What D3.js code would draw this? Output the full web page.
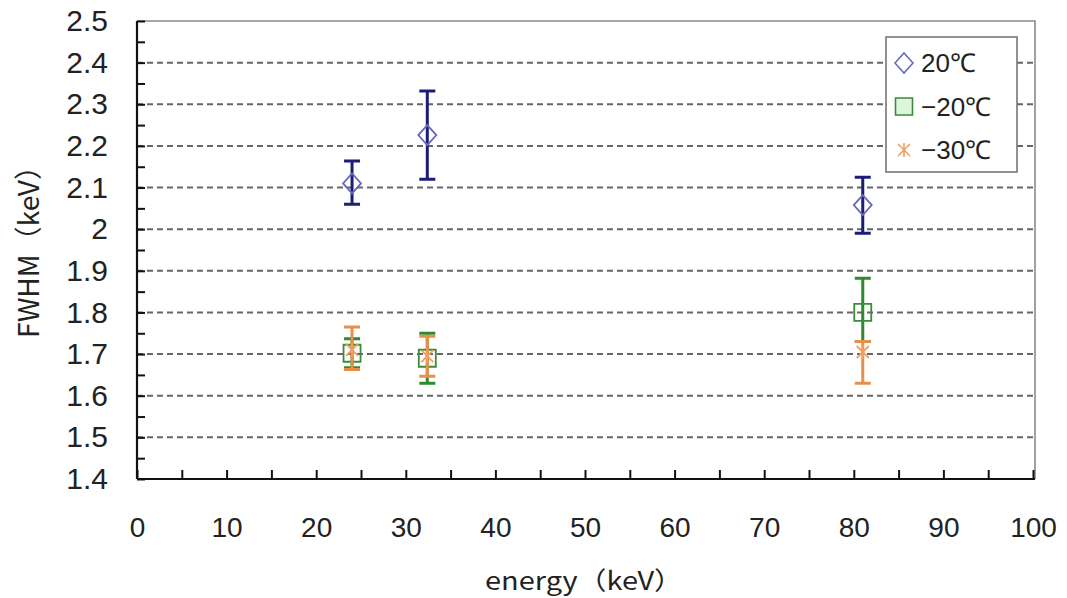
<!DOCTYPE html>
<html>
<head>
<meta charset="utf-8">
<script src="https://cdn.jsdelivr.net/npm/d3@7"></script>
<style>
  body { margin: 0; background: #fff; }
  svg { display: block; }
</style>
</head>
<body>
<svg width="1067" height="598"></svg>
<script>
// energies (keV) where each source line was measured
const energy = [24, 32.4, 81];

// 20 C
const fwhm20 = [2.11, 2.226, 2.058];
const low20 = [2.06, 2.12, 1.99];
const high20 = [2.164, 2.332, 2.125];

// -20 C
const fwhmM20 = [1.702, 1.69, 1.80];
const lowM20 = [1.667, 1.63, 1.73];
const highM20 = [1.737, 1.75, 1.882];

// -30 C
const fwhmM30 = [1.71, 1.695, 1.705];
const lowM30 = [1.663, 1.647, 1.63];
const highM30 = [1.765, 1.743, 1.73];

const seriesNames = ["20℃", "−20℃", "−30℃"];
const yTicks = [1.4, 1.5, 1.6, 1.7, 1.8, 1.9, 2.0, 2.1, 2.2, 2.3, 2.4, 2.5];
const xTicks = [0, 10, 20, 30, 40, 50, 60, 70, 80, 90, 100];

var svg = d3.select("svg");

const plotLeft = 137, plotRight = 1035, plotTop = 21, plotBottom = 479;

var x = d3.scaleLinear().domain([0, 100]).range([plotLeft, 1033]);
var y = d3.scaleLinear().domain([1.4, 2.5]).range([plotBottom, plotTop]);

// dashed grid
svg.append("g")
    .selectAll("line")
    .data(yTicks.filter(d => d > 1.45 && d < 2.45))
    .join("line")
    .attr("x1", plotLeft).attr("x2", plotRight)
    .attr("y1", d => y(d)).attr("y2", d => y(d))
    .attr("stroke", "#666")
    .attr("stroke-width", 2)
    .attr("stroke-dasharray", "6,4");

// top and right frame
svg.append("path")
    .attr("d", `M${plotLeft},${y(2.5)}H${plotRight}V${plotBottom}`)
    .attr("fill", "none")
    .attr("stroke", "#8a8a8a")
    .attr("stroke-width", 1.6);

// minor ticks (every 0.05 / every 5)
const yMinor = d3.range(1.4, 2.5001, 0.05);
const xMinor = d3.range(0, 100.001, 5);

svg.append("g")
    .attr("transform", `translate(${plotLeft},0)`)
    .call(d3.axisLeft(y).tickValues(yMinor).tickSize(-8).tickFormat(""))
    .call(g => g.select(".domain").remove())
    .call(g => g.selectAll("line").attr("stroke", "#111").attr("stroke-width", 2));

svg.append("g")
    .attr("transform", `translate(0,${plotBottom})`)
    .call(d3.axisBottom(x).tickValues(xMinor).tickSize(-9).tickFormat(""))
    .call(g => g.select(".domain").remove())
    .call(g => g.selectAll("line").attr("stroke", "#111").attr("stroke-width", 2));

// labelled axes
var yAxis = svg.append("g")
    .attr("transform", `translate(${plotLeft},0)`)
    .call(d3.axisLeft(y).tickValues(yTicks).tickSize(0).tickPadding(29)
        .tickFormat(d => String(+d.toFixed(1))));
yAxis.select(".domain").attr("stroke", "#111").attr("stroke-width", 2.2)
    .attr("d", `M0,${plotTop}V${plotBottom}`);
yAxis.selectAll("text")
    .attr("font-family", "'Liberation Sans', Arial, sans-serif")
    .attr("font-size", 30).attr("fill", "#222");

var xAxis = svg.append("g")
    .attr("transform", `translate(0,${plotBottom})`)
    .call(d3.axisBottom(x).tickValues(xTicks).tickSize(0).tickPadding(38));
xAxis.select(".domain").attr("stroke", "#111").attr("stroke-width", 2.2)
    .attr("d", `M${plotLeft},0H${plotRight}`);
xAxis.selectAll("text")
    .attr("font-family", "'Liberation Sans', Arial, sans-serif")
    .attr("font-size", 28).attr("fill", "#222");

// axis titles
svg.append("text")
    .attr("transform", "translate(39,245) rotate(-90)")
    .attr("text-anchor", "middle")
    .attr("font-family", "'Noto Sans CJK JP', 'Liberation Sans', sans-serif")
    .attr("font-size", 28)
    .attr("fill", "#222")
    .attr("textLength", 186)
    .attr("lengthAdjust", "spacingAndGlyphs")
    .text("FWHM（keV）");

svg.append("text")
    .attr("x", 584).attr("y", 590)
    .attr("text-anchor", "middle")
    .attr("font-family", "'Noto Sans CJK JP', 'Liberation Sans', sans-serif")
    .attr("font-size", 25)
    .attr("fill", "#222")
    .attr("textLength", 198)
    .attr("lengthAdjust", "spacingAndGlyphs")
    .text("energy（keV）");

// series
const series = [
    { name: seriesNames[0], v: fwhm20, lo: low20, hi: high20, bar: "#1d1d78", mark: "#6a6ab8", shape: "diamond" },
    { name: seriesNames[1], v: fwhmM20, lo: lowM20, hi: highM20, bar: "#2e8a2e", mark: "#3d8a3d", shape: "square" },
    { name: seriesNames[2], v: fwhmM30, lo: lowM30, hi: highM30, bar: "#e8904a", mark: "#f0a060", shape: "star" }
];

function markerPath(shape, cx, cy) {
    if (shape === "diamond") {
        return `M${cx},${cy - 10}L${cx + 9},${cy}L${cx},${cy + 10}L${cx - 9},${cy}Z`;
    }
    if (shape === "square") {
        return `M${cx - 8.5},${cy - 8.5}h17v17h-17Z`;
    }
    // asterisk
    return `M${cx - 6},${cy - 6}L${cx + 6},${cy + 6}M${cx - 6},${cy + 6}L${cx + 6},${cy - 6}M${cx},${cy - 7}V${cy + 7}`;
}

series.forEach(s => {
    var g = svg.append("g");
    const pts = energy.map((e, i) => ({ e: e, v: s.v[i], lo: s.lo[i], hi: s.hi[i] }));

    g.selectAll(".bar")
        .data(pts)
        .join("path")
        .attr("class", "bar")
        .attr("d", d => `M${x(d.e)},${y(d.hi)}V${y(d.lo)}` +
            `M${x(d.e) - 8},${y(d.hi)}h16M${x(d.e) - 8},${y(d.lo)}h16`)
        .attr("stroke", s.bar)
        .attr("stroke-width", 3)
        .attr("fill", "none");

    g.selectAll(".mark")
        .data(pts)
        .join("path")
        .attr("class", "mark")
        .attr("d", d => markerPath(s.shape, x(d.e), y(d.v)))
        .attr("stroke", s.mark)
        .attr("stroke-width", 1.8)
        .attr("fill", "none");
});

// legend
var legend = svg.append("g");
legend.append("rect")
    .attr("x", 886).attr("y", 37)
    .attr("width", 131).attr("height", 135)
    .attr("fill", "#fff")
    .attr("stroke", "#777")
    .attr("stroke-width", 1.6);

const legendFill = ["#fff", "#dcf5dc", "none"];
series.forEach((s, i) => {
    const cy = 63 + i * 43.5;
    legend.append("path")
        .attr("d", markerPath(s.shape, 904, cy))
        .attr("stroke", s.mark)
        .attr("stroke-width", 1.6)
        .attr("fill", legendFill[i]);
    legend.append("text")
        .attr("x", 921).attr("y", cy + 9)
        .attr("font-family", "'Liberation Sans', Arial, sans-serif")
        .attr("font-size", 26)
        .attr("fill", "#222")
        .text(s.name);
});
</script>
</body>
</html>
